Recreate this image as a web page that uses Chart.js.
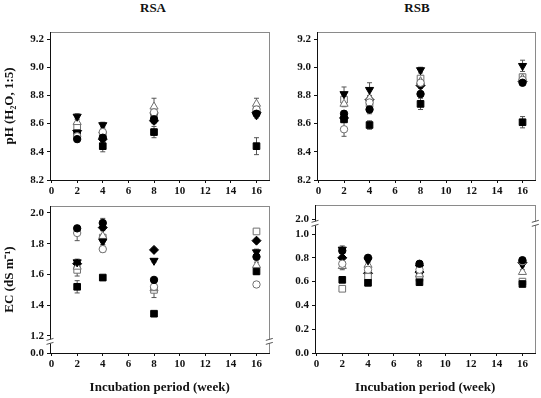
<!DOCTYPE html>
<html>
<head>
<meta charset="utf-8">
<script src="https://cdn.jsdelivr.net/npm/chart.js@4.4.1/dist/chart.umd.min.js"></script>
<style>
  body { margin: 0; background: #fff; }
  #page { position: relative; width: 541px; height: 398px; overflow: hidden; }
  canvas { position: absolute; }
  .ttl { position: absolute; font: bold 13px "Liberation Serif", serif; color: #111; transform: translate(-50%, -50%); }
</style>
</head>
<body>
<div id="page">
  <div class="ttl" style="left:153px; top:8px;">RSA</div>
  <div class="ttl" style="left:417px; top:8px;">RSB</div>
  <canvas id="phA" width="275" height="200" style="left:0; top:0;"></canvas>
  <canvas id="phB" width="266" height="200" style="left:275px; top:0;"></canvas>
  <canvas id="ecA" width="275" height="203" style="left:0; top:195px;"></canvas>
  <canvas id="ecB" width="266" height="203" style="left:275px; top:195px;"></canvas>
</div>
<script>
const weeks = [2, 4, 8, 16];
const xTicks = [0, 2, 4, 6, 8, 10, 12, 14, 16];
const seriesNames = ["filled circle", "open circle", "filled triangle", "open triangle", "filled square", "open square", "filled diamond"];

const phTickLabels = ["8.2", "8.4", "8.6", "8.8", "9.0", "9.2"];
const ecATickLabels = ["0.0", "1.2", "1.4", "1.6", "1.8", "2.0"];
const ecBTickLabels = ["0.0", "0.2", "0.4", "0.6", "0.8", "1.0", "2.0"];

// pH, RSA (one row per series, columns = weeks)
const phA = [
  [8.49, 8.50, 8.63, 8.67],
  [8.51, 8.54, 8.68, 8.70],
  [8.65, 8.59, 8.66, 8.66],
  [8.61, 8.55, 8.72, 8.74],
  [8.53, 8.44, 8.54, 8.44],
  [8.58, 8.52, 8.65, 8.69],
  [8.55, 8.49, 8.62, 8.68],
];
const phAErr = [
  [0.02, 0.02, 0.02, 0.02],
  [0.03, 0.02, 0.03, 0.02],
  [0.02, 0.02, 0.03, 0.02],
  [0.03, 0.03, 0.06, 0.04],
  [0.02, 0.04, 0.04, 0.06],
  [0.02, 0.02, 0.02, 0.02],
  [0.02, 0.02, 0.02, 0.02],
];

// pH, RSB
const phB = [
  [8.67, 8.70, 8.81, 8.89],
  [8.56, 8.75, 8.89, 8.91],
  [8.81, 8.84, 8.98, 9.01],
  [8.74, 8.78, 8.90, 8.92],
  [8.63, 8.59, 8.74, 8.61],
  [8.77, 8.74, 8.92, 8.93],
  [8.64, 8.77, 8.87, 8.90],
];
const phBErr = [
  [0.02, 0.03, 0.02, 0.02],
  [0.05, 0.03, 0.02, 0.02],
  [0.05, 0.05, 0.02, 0.04],
  [0.02, 0.02, 0.02, 0.02],
  [0.02, 0.03, 0.04, 0.04],
  [0.03, 0.02, 0.02, 0.02],
  [0.02, 0.02, 0.02, 0.02],
];

// EC, RSA
const ecA = [
  [1.90, 1.935, 1.565, 1.715],
  [1.87, 1.765, 1.52, 1.535],
  [1.68, 1.815, 1.69, 1.745],
  [1.65, 1.85, 1.51, 1.66],
  [1.52, 1.58, 1.345, 1.62],
  [1.63, 1.84, 1.50, 1.88],
  [1.67, 1.905, 1.76, 1.82],
];
const ecAErr = [
  [0.01, 0.03, 0.01, 0.02],
  [0.05, 0.02, 0.02, 0.01],
  [0.02, 0.02, 0.01, 0.02],
  [0.03, 0.04, 0.02, 0.02],
  [0.04, 0.01, 0.01, 0.02],
  [0.04, 0.02, 0.05, 0.01],
  [0.02, 0.02, 0.01, 0.01],
];

// EC, RSB
const ecB = [
  [0.86, 0.80, 0.75, 0.78],
  [0.75, 0.70, 0.70, 0.77],
  [0.87, 0.78, 0.72, 0.745],
  [0.73, 0.74, 0.66, 0.68],
  [0.615, 0.59, 0.595, 0.58],
  [0.54, 0.64, 0.63, 0.60],
  [0.80, 0.67, 0.68, 0.76],
];
const ecBErr = [
  [0.02, 0.01, 0.02, 0.02],
  [0.02, 0.02, 0.02, 0.01],
  [0.03, 0.02, 0.02, 0.02],
  [0.03, 0.03, 0.04, 0.02],
  [0.01, 0.01, 0.01, 0.01],
  [0.01, 0.02, 0.02, 0.02],
  [0.02, 0.02, 0.02, 0.02],
];

const markers = [
  { style: "circle", fill: true, r: 3.7, rot: 0 },
  { style: "circle", fill: false, r: 3.7, rot: 0 },
  { style: "triangle", fill: true, r: 4.7, rot: 180 },
  { style: "triangle", fill: false, r: 4.7, rot: 0 },
  { style: "rect", fill: true, r: 4.7, rot: 0 },
  { style: "rect", fill: false, r: 4.7, rot: 0 },
  { style: "rectRot", fill: true, r: 4.5, rot: 0 },
];

const ink = "#111";
const tickFont = { family: "Liberation Serif", weight: "bold", size: 11 };
const titleFont = { family: "Liberation Serif", weight: "bold", size: 13 };

const framePlugin = {
  id: "frame",
  beforeDraw: (chart) => {
    const a = chart.chartArea;
    const c = chart.ctx;
    c.save();
    c.strokeStyle = "#8a8a8a";
    c.lineWidth = 1;
    c.strokeRect(Math.round(a.left) + 0.5, Math.round(a.top) + 0.5, Math.round(a.right - a.left), Math.round(a.bottom - a.top));
    c.restore();
  },
};

const makeErrorPlugin = (p) => ({
  id: "errbars",
  beforeDatasetsDraw: (chart) => {
    const c = chart.ctx;
    const ys = chart.scales.y;
    c.save();
    c.strokeStyle = "#555";
    c.lineWidth = 1;
    chart.data.datasets.forEach((ds, s) => {
      const meta = chart.getDatasetMeta(s);
      meta.data.forEach((pt, i) => {
        const v = p.values[s][i];
        const e = p.errors[s][i];
        const y1 = ys.getPixelForValue(p.toAxis(v + e));
        const y2 = ys.getPixelForValue(p.toAxis(v - e));
        c.beginPath();
        c.moveTo(pt.x, y1);
        c.lineTo(pt.x, y2);
        c.moveTo(pt.x - 2.5, y1);
        c.lineTo(pt.x + 2.5, y1);
        c.moveTo(pt.x - 2.5, y2);
        c.lineTo(pt.x + 2.5, y2);
        c.stroke();
      });
    });
    c.restore();
  },
});

const makeBreakPlugin = (p) => ({
  id: "axisbreak",
  afterDraw: (chart) => {
    if (p.breakAt === undefined) return;
    const a = chart.chartArea;
    const c = chart.ctx;
    const y = chart.scales.y.getPixelForValue(p.breakAt);
    c.save();
    for (const x of [a.left, a.right]) {
      c.fillStyle = "#fff";
      c.fillRect(x - 4, y - 2, 8, 4);
      c.strokeStyle = "#555";
      c.lineWidth = 1;
      c.beginPath();
      c.moveTo(x - 3.5, y - 1);
      c.lineTo(x + 3.5, y - 3);
      c.moveTo(x - 3.5, y + 3);
      c.lineTo(x + 3.5, y + 1);
      c.stroke();
    }
    c.restore();
  },
});

const makePanel = (p) => {
  const datasets = markers.map((m, s) => ({
    label: seriesNames[s],
    data: weeks.map((w, i) => ({ x: w, y: p.toAxis(p.values[s][i]) })),
    pointStyle: m.style,
    rotation: m.rot,
    pointRadius: m.r,
    backgroundColor: m.fill ? "#000" : "#fff",
    borderColor: m.fill ? "#000" : "#707070",
    borderWidth: 1,
    showLine: false,
  }));

  return new Chart(document.getElementById(p.id), {
    type: "scatter",
    data: { datasets },
    options: {
      responsive: false,
      animation: false,
      events: [],
      layout: { padding: p.pad },
      plugins: { legend: { display: false }, tooltip: { enabled: false } },
      scales: {
        x: {
          type: "linear",
          min: -0.12,
          max: 17,
          afterBuildTicks: (s) => { s.ticks = xTicks.map((v) => ({ value: v })); },
          afterFit: (s) => { s.height = p.xHeight; },
          grid: { drawOnChartArea: false, tickLength: 3, color: ink },
          border: { color: ink },
          ticks: { font: tickFont, color: ink, padding: 2, maxRotation: 0, callback: (v) => String(v) },
          title: p.xTitle
            ? { display: true, text: p.xTitle, font: titleFont, color: ink, padding: { top: 0, bottom: 3 } }
            : { display: false },
        },
        y: {
          type: "linear",
          min: p.yMin,
          max: p.yMax,
          afterBuildTicks: (s) => { s.ticks = p.tickLabels.map((t) => ({ value: p.toAxis(parseFloat(t)) })); },
          afterFit: (s) => { s.width = p.yWidth; },
          grid: { drawOnChartArea: false, tickLength: 3, color: ink },
          border: { color: ink },
          ticks: { font: tickFont, color: ink, padding: 3, callback: (v, i) => p.tickLabels[i] },
          title: p.yTitle
            ? { display: true, text: p.yTitle, font: titleFont, color: ink, padding: { top: 2, bottom: 0 } }
            : { display: false },
        },
      },
    },
    plugins: [framePlugin, makeErrorPlugin(p), makeBreakPlugin(p)],
  });
};

const same = (v) => v;

makePanel({
  id: "phA", values: phA, errors: phAErr, toAxis: same,
  yMin: 8.2, yMax: 9.25, tickLabels: phTickLabels,
  yTitle: "pH (H\u2082O, 1:5)", xTitle: null,
  pad: { left: 0, right: 4, top: 32, bottom: 0 }, yWidth: 50, xHeight: 20,
});

makePanel({
  id: "phB", values: phB, errors: phBErr, toAxis: same,
  yMin: 8.2, yMax: 9.25, tickLabels: phTickLabels,
  yTitle: null, xTitle: null,
  pad: { left: 0, right: 4, top: 32, bottom: 0 }, yWidth: 42, xHeight: 20,
});

// EC RSA: 0 - 1.2 squeezed below the break
makePanel({
  id: "ecA", values: ecA, errors: ecAErr,
  toAxis: (v) => (v >= 1.2 ? v : 1.0894 + v * (0.1106 / 1.2)),
  yMin: 1.0894, yMax: 2.0455, tickLabels: ecATickLabels, breakAt: 1.165,
  yTitle: "EC (dS m\u207B\u00B9)", xTitle: "Incubation period (week)",
  pad: { left: 0, right: 4, top: 11, bottom: 0 }, yWidth: 50, xHeight: 45,
});

// EC RSB: 1.0 - 2.0 squeezed above the break
makePanel({
  id: "ecB", values: ecB, errors: ecBErr,
  toAxis: (v) => (v <= 1.0 ? v : 1.0 + (v - 1.0) * 0.126),
  yMin: 0, yMax: 1.244, tickLabels: ecBTickLabels, breakAt: 1.09,
  yTitle: null, xTitle: "Incubation period (week)",
  pad: { left: 0, right: 5, top: 10, bottom: 0 }, yWidth: 40, xHeight: 45,
});
</script>
</body>
</html>
